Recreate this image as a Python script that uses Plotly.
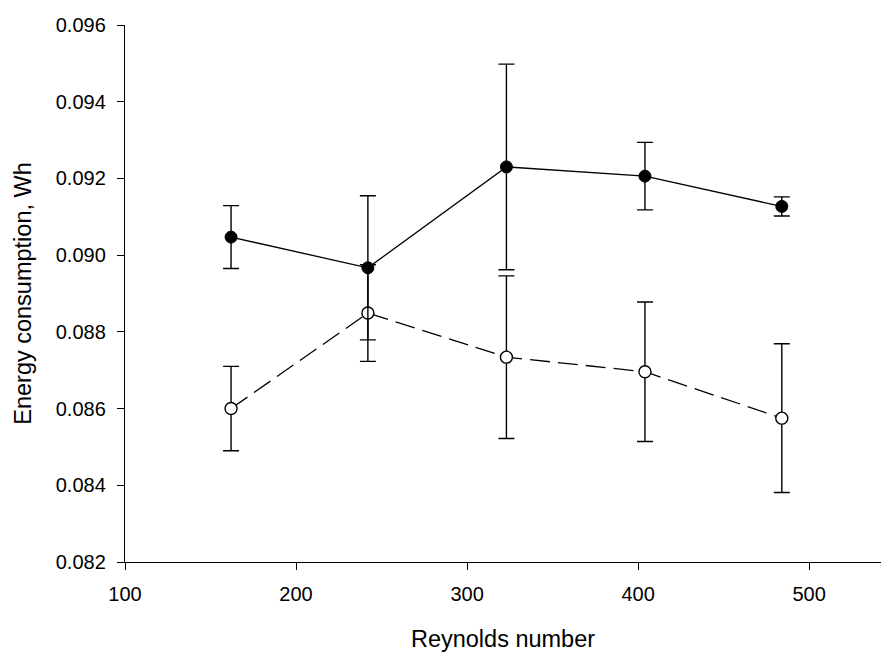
import plotly.graph_objects as go

reynolds = [162, 242, 323, 404, 484]

filled_y = [0.09047, 0.08967, 0.09230, 0.09206, 0.09127]
filled_err = [0.00082, 0.00188, 0.00268, 0.00088, 0.00025]

open_y = [0.08600, 0.08849, 0.08734, 0.08696, 0.08575]
open_err = [0.00110, 0.00126, 0.00212, 0.00182, 0.00194]

x_ticks = [100, 200, 300, 400, 500]
y_ticks = [0.082, 0.084, 0.086, 0.088, 0.090, 0.092, 0.094, 0.096]

FONT = "Liberation Sans, Arial, sans-serif"

fig = go.Figure()

fig.add_trace(go.Scatter(
    x=reynolds, y=open_y, mode="lines+markers",
    line=dict(color="black", width=1.3, dash="20px,8px"),
    marker=dict(symbol="circle", size=12, color="white",
                line=dict(color="black", width=1.4)),
    error_y=dict(type="data", array=open_err, visible=True,
                 color="black", thickness=1.4, width=8),
    showlegend=False,
))

fig.add_trace(go.Scatter(
    x=reynolds, y=filled_y, mode="lines+markers",
    line=dict(color="black", width=1.3),
    marker=dict(symbol="circle", size=12, color="black",
                line=dict(color="black", width=1)),
    error_y=dict(type="data", array=filled_err, visible=True,
                 color="black", thickness=1.4, width=8),
    showlegend=False,
))

fig.update_layout(
    width=881, height=652,
    margin=dict(l=125, r=0, t=25, b=90),
    paper_bgcolor="white", plot_bgcolor="white",
    font=dict(family=FONT, color="black", size=20),
    xaxis=dict(
        range=[100, 542], tickvals=x_ticks, ticktext=[str(v) for v in x_ticks],
        showline=True, linecolor="black", linewidth=1.4,
        ticks="outside", ticklen=7, tickwidth=1.4, tickcolor="black",
        showgrid=False, zeroline=False,
        tickfont=dict(size=20, family=FONT),
        ticklabelstandoff=7,
        title=dict(text="Reynolds number", font=dict(size=23.5, family=FONT), standoff=29),
    ),
    yaxis=dict(
        range=[0.082, 0.096], tickvals=y_ticks,
        ticktext=["%.3f" % v for v in y_ticks],
        showline=True, linecolor="black", linewidth=1.4,
        ticks="outside", ticklen=7, tickwidth=1.4, tickcolor="black",
        showgrid=False, zeroline=False,
        tickfont=dict(size=20, family=FONT),
        ticklabelstandoff=7,
        title=dict(text="Energy consumption, Wh", font=dict(size=23.5, family=FONT), standoff=17),
    ),
)

fig.write_html("out.html")
